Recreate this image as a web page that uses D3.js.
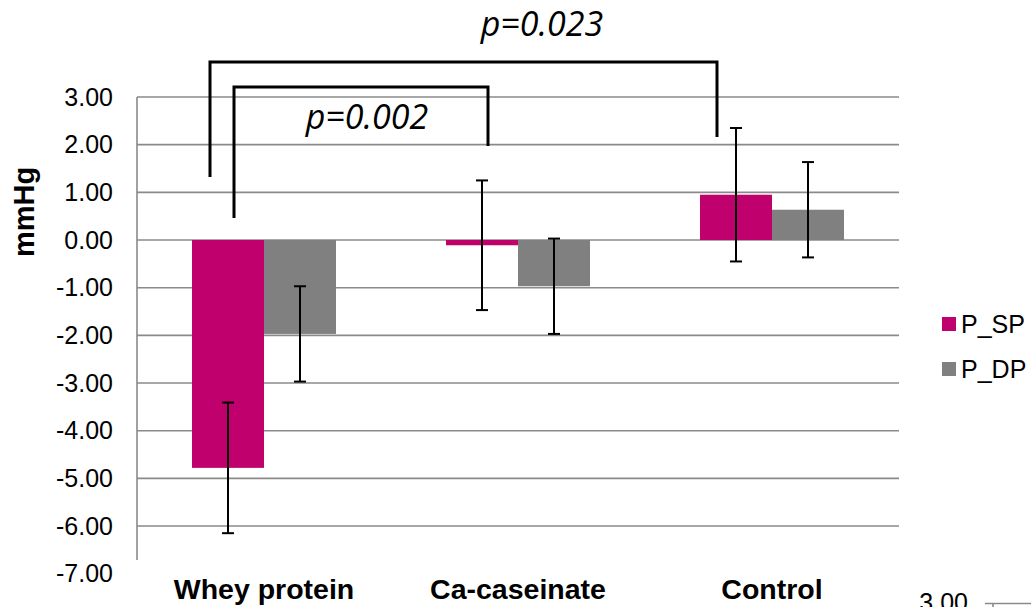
<!DOCTYPE html>
<html>
<head>
<meta charset="utf-8">
<script src="https://cdn.jsdelivr.net/npm/d3@7"></script>
<style>
  body { margin: 0; background: #fff; }
  svg { display: block; }
</style>
</head>
<body>
<svg id="chart" width="1031" height="607"></svg>
<script>
// data
const categories = ["Whey protein", "Ca-caseinate", "Control"];
const seriesNames = ["P_SP", "P_DP"];
const spValues = [-4.78, -0.11, 0.95];
const spErrors = [1.37, 1.36, 1.40];
const dpValues = [-1.97, -0.97, 0.635];
const dpErrors = [1.0, 1.0, 1.0];
const yTicks = [3, 2, 1, 0, -1, -2, -3, -4, -5, -6, -7];
// significance brackets: [from category, to category, label]
const brackets = [
  {from: 0, to: 2, label: "p=0.023"},
  {from: 0, to: 1, label: "p=0.002"}
];

const colors = {P_SP: "#c0006c", P_DP: "#808080"};

const svg = d3.select("#chart"),
    margin = {top: 97, right: 132, bottom: 34, left: 137},
    width = 1031 - margin.left - margin.right,
    plotBottom = 560;

const y = d3.scaleLinear()
    .domain([-7, 3])
    .range([573.7, 97]);

const x0 = d3.scaleBand()
    .domain(categories)
    .range([margin.left, margin.left + width]);

const x1 = d3.scaleBand()
    .domain(seriesNames)
    .range([0, 144]);

const groupOffset = (x0.bandwidth() - 144) / 2;

const rows = categories.map((c, i) => ({
  cat: c,
  bars: [
    {name: "P_SP", value: spValues[i], err: spErrors[i]},
    {name: "P_DP", value: dpValues[i], err: dpErrors[i]}
  ]
}));

// excel style labels, plain hyphen for the minus
const fmt = d => d.toFixed(2);

// gridlines
svg.append("g")
    .selectAll("line")
    .data(yTicks.filter(t => t > -7))
    .enter().append("line")
    .attr("x1", margin.left)
    .attr("x2", margin.left + width)
    .attr("y1", d => y(d))
    .attr("y2", d => y(d))
    .attr("stroke", "#8a8a8a")
    .attr("stroke-width", 1.6);

// y axis line
svg.append("line")
    .attr("x1", margin.left).attr("x2", margin.left)
    .attr("y1", y(3)).attr("y2", plotBottom)
    .attr("stroke", "#8a8a8a")
    .attr("stroke-width", 1.6);

// tick labels
svg.append("g")
    .selectAll("text")
    .data(yTicks)
    .enter().append("text")
    .attr("x", 113)
    .attr("y", d => y(d) + 8.5)
    .attr("text-anchor", "end")
    .attr("font-family", "Liberation Sans, Arial, sans-serif")
    .attr("font-size", "25px")
    .attr("fill", "#000")
    .text(fmt);

// y axis title
svg.append("text")
    .attr("transform", "translate(34,212) rotate(-90)")
    .attr("text-anchor", "middle")
    .attr("font-family", "Liberation Sans, Arial, sans-serif")
    .attr("font-weight", "bold")
    .attr("font-size", "29px")
    .text("mmHg");

// bars
const groups = svg.append("g")
    .selectAll("g")
    .data(rows)
    .enter().append("g")
    .attr("transform", d => "translate(" + (x0(d.cat) + groupOffset) + ",0)");

groups.selectAll("rect")
    .data(d => d.bars)
    .enter().append("rect")
    .attr("x", d => x1(d.name))
    .attr("y", d => y(Math.max(0, d.value)))
    .attr("width", x1.bandwidth())
    .attr("height", d => Math.abs(y(d.value) - y(0)))
    .attr("fill", d => colors[d.name]);

// error bars
const eb = groups.selectAll(".err")
    .data(d => d.bars)
    .enter().append("g")
    .attr("class", "err")
    .attr("stroke", "#000")
    .attr("stroke-width", 2);

eb.append("line")
    .attr("x1", d => x1(d.name) + x1.bandwidth() / 2)
    .attr("x2", d => x1(d.name) + x1.bandwidth() / 2)
    .attr("y1", d => y(d.value + d.err))
    .attr("y2", d => y(d.value - d.err));

eb.append("line")
    .attr("x1", d => x1(d.name) + x1.bandwidth() / 2 - 6)
    .attr("x2", d => x1(d.name) + x1.bandwidth() / 2 + 6)
    .attr("y1", d => y(d.value + d.err))
    .attr("y2", d => y(d.value + d.err));

eb.append("line")
    .attr("x1", d => x1(d.name) + x1.bandwidth() / 2 - 6)
    .attr("x2", d => x1(d.name) + x1.bandwidth() / 2 + 6)
    .attr("y1", d => y(d.value - d.err))
    .attr("y2", d => y(d.value - d.err));

// category labels
svg.append("g")
    .selectAll("text")
    .data(categories)
    .enter().append("text")
    .attr("x", d => x0(d) + x0.bandwidth() / 2)
    .attr("y", 599)
    .attr("text-anchor", "middle")
    .attr("font-family", "Liberation Sans, Arial, sans-serif")
    .attr("font-weight", "bold")
    .attr("font-size", "28.5px")
    .text(d => d);

// significance brackets (hand placed, as in the original figure)
const bracketGeom = [
  {lx: 210, top: 62, lBottom: 177, rx: 717, rBottom: 137, tx: 542, ty: 36},
  {lx: 234, top: 87, lBottom: 218, rx: 488, rBottom: 146, tx: 367, ty: 129}
];

brackets.forEach((b, i) => {
  const g = bracketGeom[i];
  svg.append("path")
      .attr("d", "M" + g.lx + "," + g.lBottom + "V" + g.top + "H" + g.rx + "V" + g.rBottom)
      .attr("fill", "none")
      .attr("stroke", "#000")
      .attr("stroke-width", 3);
  svg.append("text")
      .attr("x", g.tx)
      .attr("y", g.ty)
      .attr("text-anchor", "middle")
      .attr("font-family", "Open Sans, sans-serif")
      .attr("font-style", "italic")
      .attr("font-size", "34px")
      .text(b.label);
});

// legend
const legend = svg.append("g")
    .selectAll("g")
    .data(seriesNames)
    .enter().append("g")
    .attr("transform", (d, i) => "translate(942," + (317 + i * 45) + ")");

legend.append("rect")
    .attr("width", 14)
    .attr("height", 14)
    .attr("fill", d => colors[d]);

legend.append("text")
    .attr("x", 19)
    .attr("y", 16)
    .attr("font-family", "Liberation Sans, Arial, sans-serif")
    .attr("font-size", "25px")
    .text(d => d);

// edge of the neighbouring chart, cut off in the original image
svg.append("text")
    .attr("x", 968)
    .attr("y", 611)
    .attr("text-anchor", "end")
    .attr("font-family", "Liberation Sans, Arial, sans-serif")
    .attr("font-size", "25px")
    .text("3.00");
svg.append("line")
    .attr("x1", 985).attr("x2", 1031)
    .attr("y1", 603.5).attr("y2", 603.5)
    .attr("stroke", "#8a8a8a")
    .attr("stroke-width", 1.6);
svg.append("line")
    .attr("x1", 993).attr("x2", 993)
    .attr("y1", 603).attr("y2", 607)
    .attr("stroke", "#8a8a8a")
    .attr("stroke-width", 1.6);
</script>
</body>
</html>
